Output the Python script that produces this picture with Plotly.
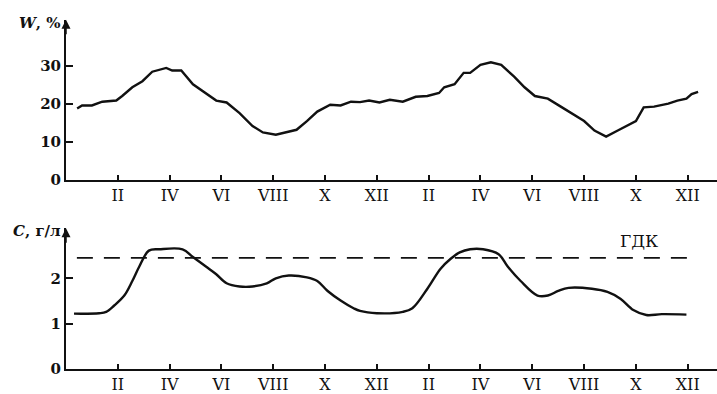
import plotly.graph_objects as go

# ---- data (months from start of first year) ----
w_month = [0.43, 0.62, 1.0, 1.4, 1.94, 2.17, 2.56, 2.95, 3.33, 3.87, 4.1, 4.45, 4.9, 5.3, 5.8, 6.2,
           6.7, 7.2, 7.6, 8.1, 8.5, 8.9, 9.3, 9.7, 10.2, 10.6, 11.0, 11.35, 11.7, 12.1, 12.5, 13.0,
           13.5, 13.95, 14.4, 14.6, 15.0, 15.35, 15.6, 16.0, 16.4, 16.8, 17.3, 17.7, 18.1, 18.6,
           19.1, 19.5, 20.0, 20.4, 20.85, 21.3, 21.7, 22.0, 22.3, 22.7, 23.25, 23.6, 23.95, 24.15, 24.4]
w_value = [18.8, 19.6, 19.6, 20.6, 20.9, 22.1, 24.4, 26.0, 28.5, 29.5, 28.8, 28.8, 25.2, 23.2, 20.9, 20.4,
           17.6, 14.2, 12.5, 11.9, 12.5, 13.2, 15.5, 18.0, 19.8, 19.6, 20.6, 20.5, 20.9, 20.4, 21.1, 20.6,
           21.9, 22.1, 22.9, 24.4, 25.2, 28.2, 28.2, 30.3, 31.0, 30.3, 27.2, 24.4, 22.1, 21.4,
           19.3, 17.6, 15.5, 13.0, 11.4, 13.0, 14.5, 15.5, 19.1, 19.3, 20.1, 20.9, 21.4, 22.6, 23.2]

c_month = [0.31, 1.28, 1.55, 1.86, 2.25, 2.56, 2.83, 3.2, 3.6, 4.5, 4.9, 5.4, 5.8, 6.2, 6.7, 7.2,
           7.75, 8.1, 8.6, 9.3, 9.7, 10.1, 10.6, 11.1, 11.35, 12.0, 13.0, 13.37, 13.95, 14.46, 14.85,
           15.2, 15.6, 16.1, 16.7, 17.05, 17.55, 18.2, 18.6, 19.0, 19.4, 20.3, 20.9, 21.4, 21.9,
           22.4, 23.0, 23.95]
c_value = [1.22, 1.23, 1.26, 1.40, 1.62, 1.94, 2.26, 2.61, 2.64, 2.64, 2.47, 2.26, 2.09, 1.89, 1.82, 1.82,
           1.89, 2.0, 2.06, 2.02, 1.94, 1.72, 1.51, 1.34, 1.28, 1.23, 1.26, 1.34, 1.77, 2.21, 2.43,
           2.57, 2.64, 2.64, 2.53, 2.26, 1.94, 1.62, 1.62, 1.72, 1.79, 1.77, 1.70, 1.55, 1.30,
           1.19, 1.21, 1.20]

gdk_value = 2.45
gdk_span = [0.42, 24.2]

tick_months = [2, 4, 6, 8, 10, 12, 14, 16, 18, 20, 22, 24]
tick_labels = ["II", "IV", "VI", "VIII", "X", "XII", "II", "IV", "VI", "VIII", "X", "XII"]
w_ticks = [0, 10, 20, 30]
c_ticks = [0, 1, 2]

FONT = "DejaVu Serif"
BLACK = "#111111"

fig = go.Figure()
fig.add_trace(go.Scatter(x=w_month, y=w_value, mode="lines", line=dict(color=BLACK, width=2.4),
                         xaxis="x", yaxis="y", showlegend=False, hoverinfo="skip"))
fig.add_trace(go.Scatter(x=c_month, y=c_value, mode="lines", line=dict(color=BLACK, width=2.4, shape="spline"),
                         xaxis="x2", yaxis="y2", showlegend=False, hoverinfo="skip"))
fig.add_trace(go.Scatter(x=gdk_span, y=[gdk_value, gdk_value], mode="lines",
                         line=dict(color=BLACK, width=1.8, dash="16px,11px"),
                         xaxis="x2", yaxis="y2", showlegend=False, hoverinfo="skip"))

xr = [0, 25.13]
common_x = dict(range=xr, tickvals=tick_months, ticktext=tick_labels, ticks="inside", ticklen=5,
                tickwidth=1.5, tickcolor=BLACK, showline=True, linecolor=BLACK, linewidth=2,
                showgrid=False, zeroline=False, tickfont=dict(family=FONT, size=16, color=BLACK),
                fixedrange=True)
common_y = dict(ticks="inside", ticklen=7, tickwidth=1.5, tickcolor=BLACK, showline=True,
                linecolor=BLACK, linewidth=2, showgrid=False, zeroline=False,
                tickfont=dict(family=FONT, size=15, color=BLACK, weight="bold"), fixedrange=True)

fig.update_layout(
    width=717, height=394,
    margin=dict(l=66, r=0, t=12, b=12),
    paper_bgcolor="white", plot_bgcolor="white",
    xaxis=dict(**common_x, anchor="y"),
    xaxis2=dict(**common_x, anchor="y2"),
    yaxis=dict(**common_y, domain=[0.5297, 0.9784], range=[0, 42.2], tickvals=w_ticks, anchor="x"),
    yaxis2=dict(**common_y, domain=[0, 0.3946], range=[0, 3.106], tickvals=c_ticks, anchor="x2"),
    annotations=[
        dict(x=0, y=42.2, xref="x", yref="y", ax=0, ay=16, text="", showarrow=True,
             arrowhead=2, arrowsize=1.2, arrowwidth=1.5, arrowcolor=BLACK, standoff=0),
        dict(x=0, y=3.106, xref="x2", yref="y2", ax=0, ay=16, text="", showarrow=True,
             arrowhead=2, arrowsize=1.2, arrowwidth=1.5, arrowcolor=BLACK, standoff=0),
        dict(x=0, y=42.2, xref="x", yref="y", xanchor="right", yanchor="top", xshift=-3, yshift=8,
             text="<i><b>W</b></i><b>, %</b>", showarrow=False,
             font=dict(family=FONT, size=15, color=BLACK)),
        dict(x=0, y=3.106, xref="x2", yref="y2", xanchor="right", yanchor="top", xshift=-3, yshift=8,
             text="<i><b>C</b></i><b>, г/л</b>", showarrow=False,
             font=dict(family=FONT, size=15, color=BLACK)),
        dict(x=22.1, y=gdk_value, xref="x2", yref="y2", xanchor="center", yanchor="bottom", yshift=5,
             text="ГДК", showarrow=False, font=dict(family=FONT, size=17, color=BLACK)),
    ],
)

fig.write_html("out.html", config={"displayModeBar": False},
               post_script="document.body.style.margin='0';document.body.style.padding='0';document.body.style.overflow='hidden';")
